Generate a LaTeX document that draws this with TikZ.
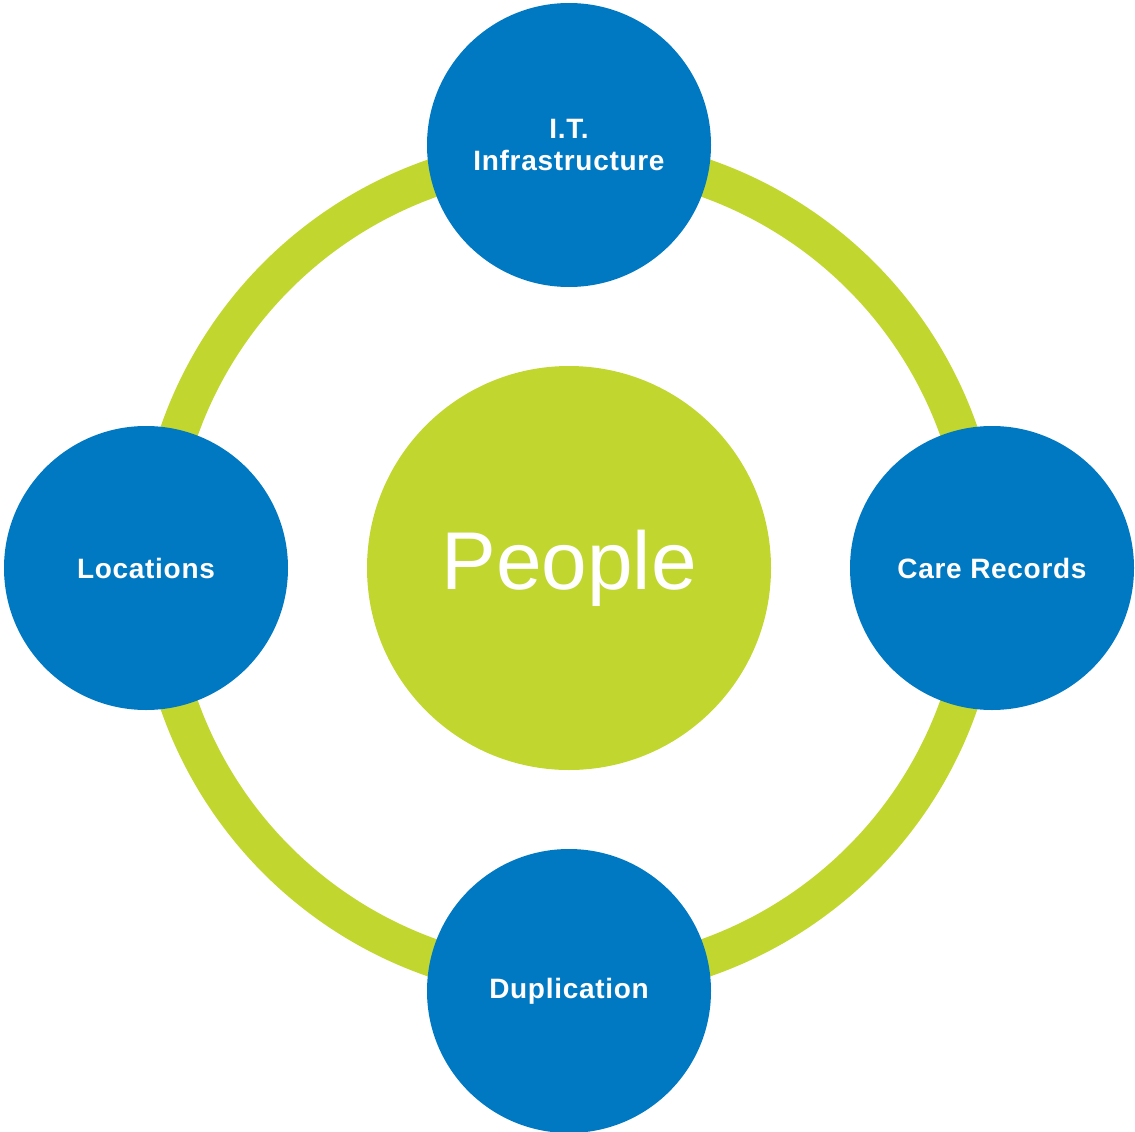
\documentclass[tikz,border=0pt]{standalone}
\usepackage{fontspec}
\setmainfont{Liberation Sans}
\newfontfamily\labelfont[LetterSpace=2.5]{Liberation Sans}
\definecolor{ringgreen}{HTML}{C1D72F}
\definecolor{topicblue}{HTML}{0079C2}
\begin{document}
\begin{tikzpicture}[x=1pt,y=-1pt,
  topic/.style={circle, fill=topicblue, minimum size=284pt, inner sep=0pt,
    text=white, font=\labelfont\fontsize{28}{32}\selectfont\bfseries, align=center},
  core/.style={circle, fill=ringgreen, minimum size=404pt, inner sep=0pt,
    text=white, font=\fontsize{82}{90}\selectfont}]
\useasboundingbox (0,0) rectangle (1135,1132);
\coordinate (c) at (569,568);
\draw[ringgreen, line width=38pt] (c) circle[radius=413pt];
\node[topic] (it) at (569,145) {I.T.\\Infrastructure};
\node[topic] (loc) at (146,568) {Locations};
\node[topic] (care) at (992,568) {Care Records};
\node[topic] (dup) at (569,991) {Duplication};
\node[core] (people) at (c) {\raisebox{-3pt}{People}};
\end{tikzpicture}
\end{document}
